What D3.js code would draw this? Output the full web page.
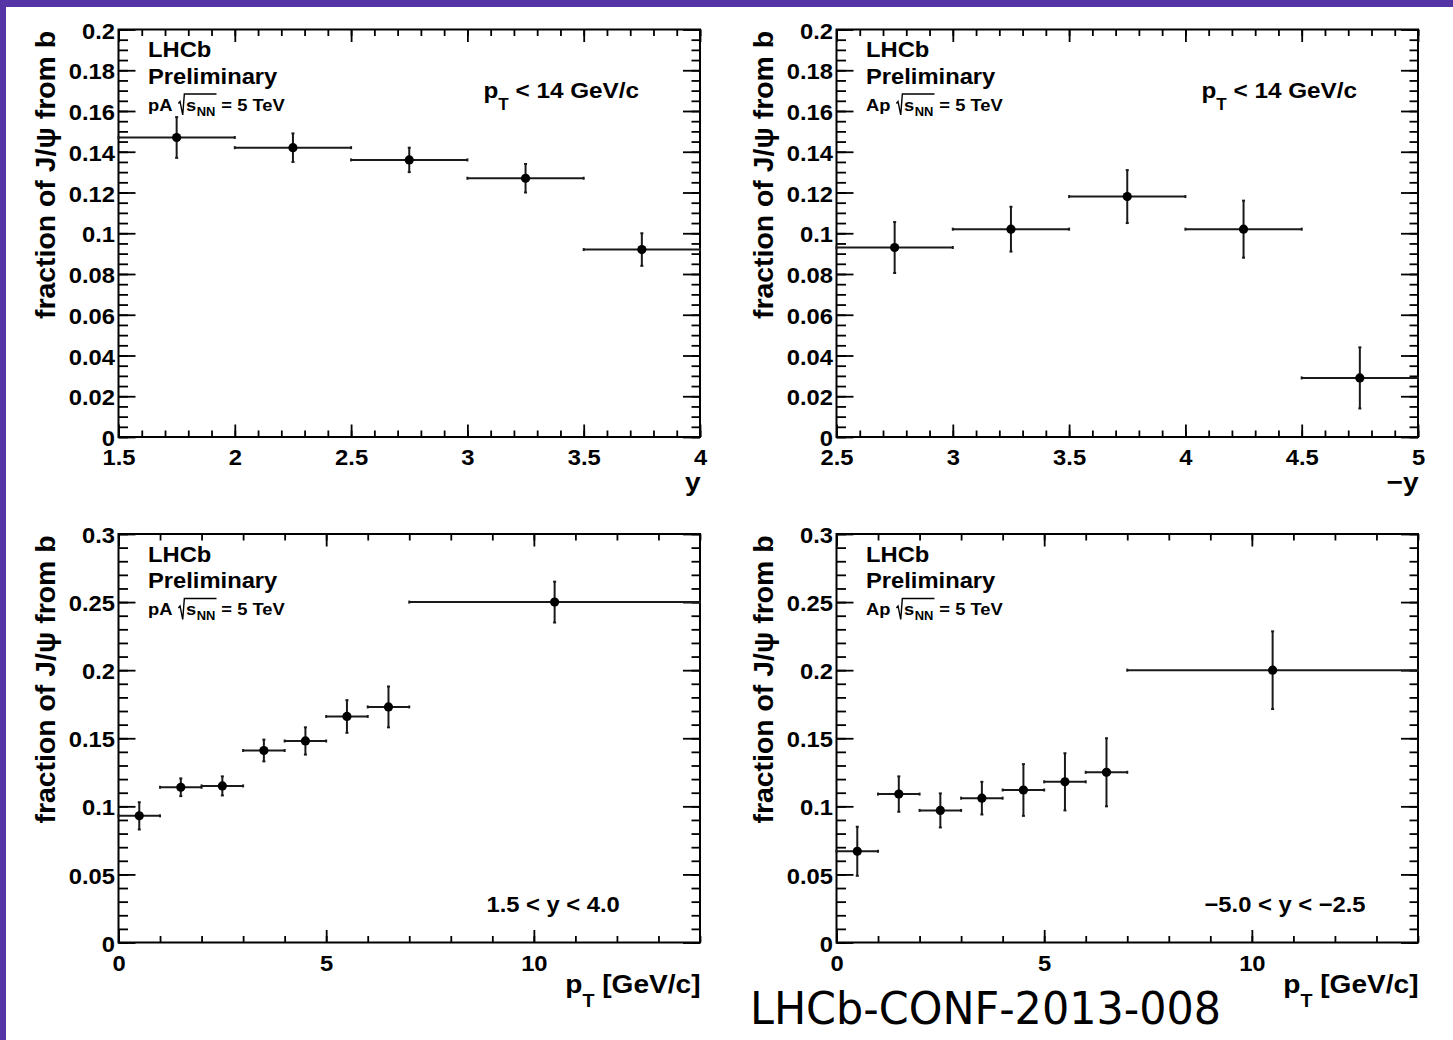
<!DOCTYPE html>
<html><head><meta charset="utf-8">
<script src="https://cdn.jsdelivr.net/npm/d3@7"></script>
<style>
body{margin:0;background:#fff;}
svg{display:block;}
text{font-family:"Liberation Sans",Arial,Helvetica,sans-serif;font-weight:bold;fill:#000;}
</style>
</head><body>
<svg id="c" width="1453" height="1040"></svg>
<script>
// ---------------- data ----------------
const yBinsPA   = [1.5, 2, 2.5, 3, 3.5, 4];
const fracPA_y  = [0.147, 0.142, 0.136, 0.127, 0.092];
const errPA_y   = [0.010, 0.007, 0.006, 0.007, 0.008];

const yBinsAp   = [2.5, 3, 3.5, 4, 4.5, 5];
const fracAp_y  = [0.093, 0.102, 0.118, 0.102, 0.029];
const errAp_y   = [0.0125, 0.011, 0.013, 0.014, 0.015];

const ptBins    = [0, 1, 2, 3, 4, 5, 6, 7, 14];
const fracPA_pt = [0.093, 0.114, 0.115, 0.141, 0.148, 0.166, 0.173, 0.250];
const errPA_pt  = [0.010, 0.0065, 0.007, 0.008, 0.010, 0.012, 0.015, 0.015];
const fracAp_pt = [0.067, 0.109, 0.097, 0.106, 0.112, 0.118, 0.125, 0.200];
const errAp_pt  = [0.018, 0.013, 0.0125, 0.012, 0.019, 0.021, 0.025, 0.0285];

const yTicksTop    = ["0","0.02","0.04","0.06","0.08","0.1","0.12","0.14","0.16","0.18","0.2"];
const yTicksBottom = ["0","0.05","0.1","0.15","0.2","0.25","0.3"];
const xTicksPAy    = ["1.5","2","2.5","3","3.5","4"];
const xTicksApy    = ["2.5","3","3.5","4","4.5","5"];
const xTicksPt     = ["0","5","10"];

const yTitle   = "fraction of J/ψ from b";
const cutTop   = [{t:"p"},{t:"T",sub:true},{t:" < 14 GeV/c"}];
const cutPA    = [{t:"1.5 < y < 4.0"}];
const cutAp    = [{t:"\u22125.0 < y < \u22122.5"}];
const xTitleY  = [{t:"y"}];
const xTitleMY = [{t:"\u2212y"}];
const xTitlePt = [{t:"p"},{t:"T",sub:true},{t:" [GeV/c]"}];
const footer   = "LHCb-CONF-2013-008";

// ---------------- drawing ----------------
const SX = 1.08;
const PURPLE = "#5535a6";
const svg = d3.select("#c");
svg.append("rect").attr("width",1453).attr("height",1040).attr("fill","#fff");
svg.append("rect").attr("x",0).attr("y",0).attr("width",1453).attr("height",7).attr("fill",PURPLE);
svg.append("rect").attr("x",0).attr("y",0).attr("width",6).attr("height",1040).attr("fill",PURPLE);

function rich(parent, x, y, parts, size, anchor){
  const g = parent.append("g").attr("transform",`translate(${x},${y}) scale(${SX},1)`);
  const t = g.append("text").attr("font-size",size).attr("text-anchor",anchor||"start");
  let shifted = false;
  parts.forEach(p=>{
    const ts = t.append("tspan").text(p.t);
    if(p.sub){ ts.attr("font-size",size*0.7).attr("dy",size*0.53); shifted=true; }
    else if(shifted){ ts.attr("dy",-size*0.53); shifted=false; }
  });
  return g;
}

function sqrtLine(parent, x, y, sys){
  const size = 17;
  const g = parent.append("g").attr("transform",`translate(${x},${y}) scale(${SX},1)`);
  const t1 = g.append("text").attr("font-size",size).text(sys);
  const w1 = t1.node().getComputedTextLength();
  const x0 = w1 + 7;
  const sx = x0 + 5.5;
  const s = g.append("text").attr("font-size",size).attr("x",sx).text("s");
  const ws = s.node().getComputedTextLength();
  const nn = g.append("text").attr("font-size",12).attr("x",sx+ws+0.5).attr("y",5).text("NN");
  const wn = nn.node().getComputedTextLength();
  const xe = sx+ws+0.5+wn+1;
  g.append("path")
    .attr("d",`M${x0-1.5},-7 L${x0},-9 L${x0+2.5},4.5 L${x0+4},-16.5 L${xe},-16.5`)
    .attr("fill","none").attr("stroke","#000").attr("stroke-width",1.3);
  g.append("text").attr("font-size",size).attr("x",xe+4.5).text("= 5 TeV");
}

const panels = [
  {left:118.5, top:29.5, w:581.5, h:407.5, xDom:[1.5,4], yDom:[0,0.2], xMaj:xTicksPAy, xMin:0.1, yMaj:yTicksTop, yMin:0.005,
   bins:yBinsPA, vals:fracPA_y, errs:errPA_y, sys:"pA", cut:cutTop, cutDy:"top", xTitle:xTitleY, xtDy:54, ytx:55},
  {left:836.5, top:29.5, w:581.5, h:407.5, xDom:[2.5,5], yDom:[0,0.2], xMaj:xTicksApy, xMin:0.1, yMaj:yTicksTop, yMin:0.005,
   bins:yBinsAp, vals:fracAp_y, errs:errAp_y, sys:"Ap", cut:cutTop, cutDy:"top", xTitle:xTitleMY, xtDy:54, ytx:773},
  {left:118.5, top:534, w:581.5, h:408.5, xDom:[0,14], yDom:[0,0.3], xMaj:xTicksPt, xMin:1, yMaj:yTicksBottom, yMin:0.01,
   bins:ptBins, vals:fracPA_pt, errs:errPA_pt, sys:"pA", cut:cutPA, cutDy:"bottom", xTitle:xTitlePt, xtDy:50.5, ytx:55},
  {left:836.5, top:534, w:581.5, h:408.5, xDom:[0,14], yDom:[0,0.3], xMaj:xTicksPt, xMin:1, yMaj:yTicksBottom, yMin:0.01,
   bins:ptBins, vals:fracAp_pt, errs:errAp_pt, sys:"Ap", cut:cutAp, cutDy:"bottom", xTitle:xTitlePt, xtDy:50.5, ytx:773}
];

panels.forEach(P=>{
  const g = svg.append("g");
  const bottom = P.top + P.h, right = P.left + P.w;
  const x = d3.scaleLinear().domain(P.xDom).range([P.left, right]);
  const y = d3.scaleLinear().domain(P.yDom).range([bottom, P.top]);
  const xMinor = d3.range(P.xDom[0], P.xDom[1]+1e-9, P.xMin);
  const yMinor = d3.range(P.yDom[0], P.yDom[1]+1e-9, P.yMin);
  const xMajor = P.xMaj.map(Number), yMajor = P.yMaj.map(Number);

  function styleAxis(a){
    a.select(".domain").remove();
    a.attr("font-family",'"Liberation Sans",Arial,sans-serif').attr("font-size",22).attr("font-weight","bold");
    a.selectAll("line").attr("stroke","#000").attr("stroke-width",1.8);
  }
  // minor ticks
  [[d3.axisBottom(x).tickValues(xMinor).tickSize(-6.5), `translate(0,${bottom})`],
   [d3.axisTop(x).tickValues(xMinor).tickSize(-6.5), `translate(0,${P.top})`],
   [d3.axisLeft(y).tickValues(yMinor).tickSize(-9.5), `translate(${P.left},0)`],
   [d3.axisRight(y).tickValues(yMinor).tickSize(-8.5), `translate(${right},0)`]
  ].forEach(([ax,tr])=>{
    const a = g.append("g").attr("transform",tr).call(ax.tickFormat(""));
    styleAxis(a);
  });
  // major ticks
  const ab = g.append("g").attr("transform",`translate(0,${bottom})`)
    .call(d3.axisBottom(x).tickValues(xMajor).tickSize(-12.5).tickPadding(12.6).tickFormat((d,i)=>P.xMaj[i]));
  styleAxis(ab); ab.selectAll("text").attr("transform",`scale(${SX},1)`).attr("fill","#000");
  const at = g.append("g").attr("transform",`translate(0,${P.top})`)
    .call(d3.axisTop(x).tickValues(xMajor).tickSize(-12.5).tickFormat(""));
  styleAxis(at);
  const al = g.append("g").attr("transform",`translate(${P.left},0)`)
    .call(d3.axisLeft(y).tickValues(yMajor).tickSize(-17).tickPadding(3.3).tickFormat((d,i)=>P.yMaj[i]));
  styleAxis(al); al.selectAll("text").attr("transform",`scale(${SX},1)`).attr("dy",8.6).attr("fill","#000");
  const ar = g.append("g").attr("transform",`translate(${right},0)`)
    .call(d3.axisRight(y).tickValues(yMajor).tickSize(-17).tickFormat(""));
  styleAxis(ar);

  // frame
  g.append("rect").attr("x",P.left).attr("y",P.top).attr("width",P.w).attr("height",P.h)
    .attr("fill","none").attr("stroke","#000").attr("stroke-width",2);

  // data
  const pts = P.vals.map((v,i)=>({lo:P.bins[i], hi:P.bins[i+1], c:(P.bins[i]+P.bins[i+1])/2, v, e:P.errs[i]}));
  const dg = g.append("g").attr("stroke","#1a1a1a").attr("stroke-width",2);
  pts.forEach(d=>{
    dg.append("line").attr("x1",x(d.lo)).attr("x2",x(d.hi)).attr("y1",y(d.v)).attr("y2",y(d.v));
    dg.append("line").attr("x1",x(d.c)).attr("x2",x(d.c)).attr("y1",y(d.v-d.e)).attr("y2",y(d.v+d.e));
    [d.v-d.e, d.v+d.e].forEach(yy=>dg.append("line").attr("x1",x(d.c)-1.5).attr("x2",x(d.c)+1.5).attr("y1",y(yy)).attr("y2",y(yy)));
    [d.lo, d.hi].forEach(xx=>dg.append("line").attr("x1",x(xx)).attr("x2",x(xx)).attr("y1",y(d.v)-1.5).attr("y2",y(d.v)+1.5));
  });
  g.selectAll("circle.pt").data(pts).join("circle").attr("class","pt")
    .attr("cx",d=>x(d.c)).attr("cy",d=>y(d.v)).attr("r",4.6).attr("fill","#000");

  // annotations
  rich(g, P.left+29.5, P.top+27.5, [{t:"LHCb"}], 22);
  rich(g, P.left+29.5, P.top+54, [{t:"Preliminary"}], 22);
  sqrtLine(g, P.left+29.5, P.top+81, P.sys);
  if(P.cutDy==="top") rich(g, P.left+365, P.top+68.5, P.cut, 22.5);
  else rich(g, P.left+368, bottom-30.5, P.cut, 22);
  rich(g, right+0.5, bottom+P.xtDy, P.xTitle, 26, "end");

  // y title
  g.append("g").attr("transform",`translate(${P.ytx},${P.top+1.5}) scale(${SX},1) rotate(-90)`)
    .append("text").attr("font-size",25.5).attr("text-anchor","end")
    .attr("textLength",288).attr("lengthAdjust","spacingAndGlyphs").text(yTitle);
});

svg.append("text").attr("x",750).attr("y",1024)
  .style("font-family",'"DejaVu Sans",sans-serif').style("font-weight","normal")
  .attr("font-size",44).attr("textLength",471).attr("lengthAdjust","spacingAndGlyphs").text(footer);
</script>
</body></html>
